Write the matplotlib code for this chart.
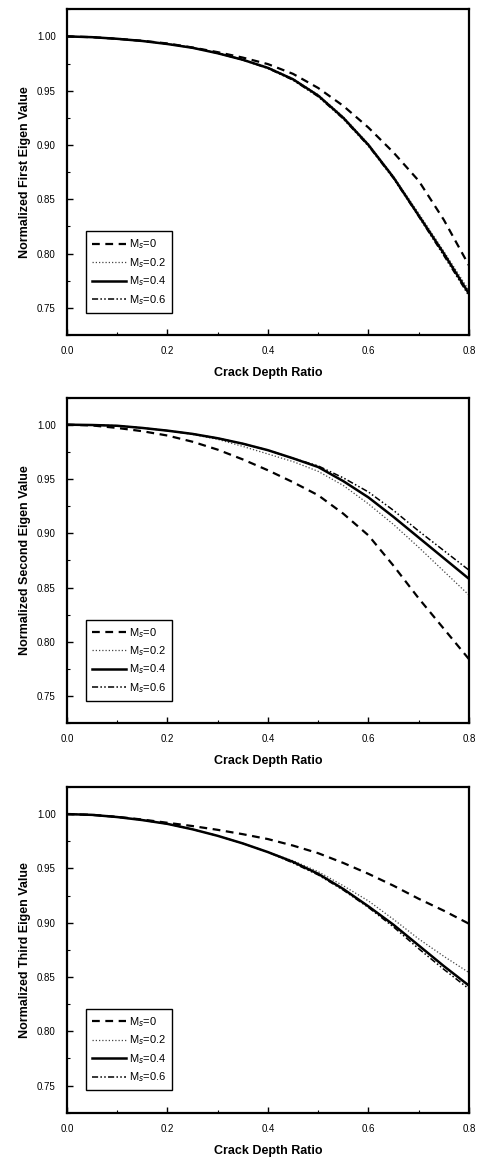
import numpy as np
import matplotlib
matplotlib.use("Agg")
import matplotlib.pyplot as plt
from matplotlib.ticker import MultipleLocator, FormatStrFormatter

plt.rcParams['font.family'] = ['Liberation Sans', 'DejaVu Sans']

# ---------- data ----------
crack_ratio = [0.00, 0.05, 0.10, 0.15, 0.20, 0.25, 0.30, 0.35, 0.40,
               0.45, 0.50, 0.55, 0.60, 0.65, 0.70, 0.75, 0.80]
mass_labels = ['M$_s$=0', 'M$_s$=0.2', 'M$_s$=0.4', 'M$_s$=0.6']

first_m0 = [1.000, 0.9993, 0.9978, 0.996, 0.9935, 0.9898, 0.9855, 0.9805, 0.9745,
            0.9655, 0.9525, 0.936, 0.916, 0.893, 0.867, 0.831, 0.789]
first_m02 = [1.000, 0.9993, 0.9978, 0.9958, 0.9932, 0.9897, 0.985, 0.979, 0.9717,
             0.961, 0.9463, 0.926, 0.901, 0.871, 0.837, 0.802, 0.766]
first_m04 = [1.000, 0.9993, 0.9978, 0.9958, 0.993, 0.9895, 0.9845, 0.9785, 0.971,
             0.9605, 0.9455, 0.925, 0.900, 0.870, 0.835, 0.800, 0.763]
first_m06 = [1.000, 0.9993, 0.9978, 0.9958, 0.993, 0.9895, 0.9845, 0.9783, 0.9705,
             0.9597, 0.9445, 0.924, 0.899, 0.869, 0.834, 0.798, 0.761]

second_m0 = [1.000, 0.9993, 0.997, 0.994, 0.990, 0.9843, 0.977, 0.968, 0.958,
             0.947, 0.935, 0.918, 0.898, 0.870, 0.840, 0.812, 0.784]
second_m02 = [1.000, 0.9997, 0.999, 0.997, 0.9945, 0.991, 0.9865, 0.980, 0.973,
              0.966, 0.957, 0.944, 0.927, 0.908, 0.887, 0.865, 0.843]
second_m04 = [1.000, 0.9997, 0.999, 0.997, 0.9945, 0.9915, 0.9875, 0.9825, 0.9765,
              0.969, 0.961, 0.948, 0.933, 0.915, 0.896, 0.877, 0.858]
second_m06 = [1.000, 0.9997, 0.999, 0.997, 0.9945, 0.9915, 0.9875, 0.9825, 0.9765,
              0.969, 0.962, 0.951, 0.938, 0.921, 0.902, 0.884, 0.866]

third_m0 = [1.000, 0.9993, 0.9975, 0.995, 0.992, 0.989, 0.9855, 0.9815, 0.977,
            0.971, 0.964, 0.955, 0.945, 0.934, 0.922, 0.911, 0.899]
third_m02 = [1.000, 0.9993, 0.9973, 0.9945, 0.991, 0.986, 0.980, 0.973, 0.965,
             0.957, 0.947, 0.934, 0.920, 0.903, 0.885, 0.869, 0.854]
third_m04 = [1.000, 0.9993, 0.9973, 0.9945, 0.991, 0.986, 0.980, 0.973, 0.965,
             0.956, 0.945, 0.931, 0.915, 0.898, 0.879, 0.860, 0.842]
third_m06 = [1.000, 0.9993, 0.9973, 0.9945, 0.991, 0.986, 0.980, 0.973, 0.965,
             0.955, 0.944, 0.930, 0.914, 0.896, 0.876, 0.857, 0.839]

panels = [
    ("Normalized First Eigen Value", [first_m0, first_m02, first_m04, first_m06]),
    ("Normalized Second Eigen Value", [second_m0, second_m02, second_m04, second_m06]),
    ("Normalized Third Eigen Value", [third_m0, third_m02, third_m04, third_m06]),
]

styles = [
    dict(color='black', lw=1.6, linestyle=(0, (3.5, 2.5))),
    dict(color='#444444', lw=0.9, linestyle=(0, (1, 1.6))),
    dict(color='black', lw=1.8, linestyle='-'),
    dict(color='black', lw=1.1, linestyle=(0, (4, 1.5, 1, 1.5, 1, 1.5))),
]

# ---------- figure ----------
fig = plt.figure(figsize=(4.81, 11.59), dpi=100)
bottoms = [0.711, 0.376, 0.040]

for (ylabel, series), b in zip(panels, bottoms):
    ax = fig.add_axes([0.139, b, 0.836, 0.281])
    for ys, st, lab in zip(series, styles, mass_labels):
        ax.plot(crack_ratio, ys, label=lab, **st)
    ax.set_xlim(0.0, 0.8)
    ax.set_ylim(0.725, 1.025)
    ax.xaxis.set_major_locator(MultipleLocator(0.2))
    ax.xaxis.set_minor_locator(MultipleLocator(0.1))
    ax.yaxis.set_major_locator(MultipleLocator(0.05))
    ax.yaxis.set_minor_locator(MultipleLocator(0.025))
    ax.xaxis.set_major_formatter(FormatStrFormatter('%.1f'))
    ax.yaxis.set_major_formatter(FormatStrFormatter('%.2f'))
    ax.tick_params(which='major', direction='in', length=4, width=1.0,
                   labelsize=7, top=False, right=False)
    ax.tick_params(axis='y', which='major', pad=8)
    ax.tick_params(axis='x', which='major', pad=8)
    ax.tick_params(which='minor', direction='in', length=2, width=0.8,
                   top=False, right=False)
    for sp in ax.spines.values():
        sp.set_linewidth(1.6)
    ax.set_ylabel(ylabel, fontsize=9, fontweight='bold', labelpad=4)
    ax.set_xlabel("Crack Depth Ratio", fontsize=9, fontweight='bold', labelpad=8)
    leg = ax.legend(loc='lower left', bbox_to_anchor=(0.048, 0.068),
                    fontsize=8, handlelength=3.0, labelspacing=0.42,
                    borderpad=0.55, handletextpad=0.3, fancybox=False,
                    framealpha=1, borderaxespad=0)
    leg.get_frame().set_edgecolor('black')
    leg.get_frame().set_linewidth(1.0)

fig.savefig("out.png", dpi=100)
